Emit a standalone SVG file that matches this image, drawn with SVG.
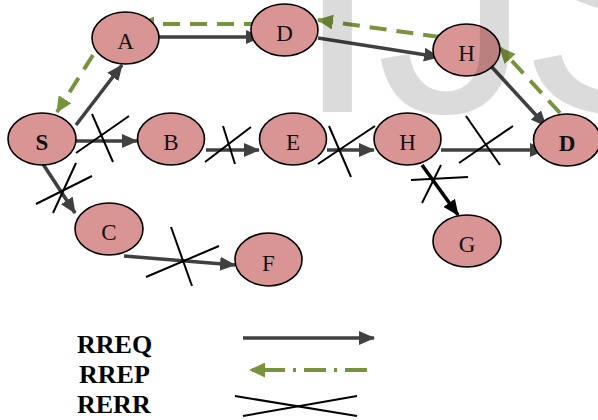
<svg xmlns="http://www.w3.org/2000/svg" width="598" height="420" viewBox="0 0 598 420">
  <style>
    .node ellipse { fill: #d99594; stroke: #000; stroke-width: 1.6; }
    .node text { font-family: "Liberation Serif", "Times New Roman", serif; font-size: 23px; fill: #111; text-anchor: middle; }
    .node text.b { font-weight: bold; }
    .req { fill: none; stroke: #404040; stroke-width: 3.6; marker-end: url(#ah); }
    .req.blk { stroke: #000; marker-end: url(#ahk); }
    .rep { fill: none; stroke: #77933c; stroke-width: 4; stroke-dasharray: 17 10; marker-end: url(#ag); }
    .err { fill: none; stroke: #000; stroke-width: 2; }
    .legend text { font-family: "Liberation Serif", "Times New Roman", serif; font-size: 26px; font-weight: bold; fill: #000; }
    .wm { font-family: "Liberation Sans", Arial, sans-serif; font-size: 312px; fill: #000; fill-opacity: 0.14; }
  </style>
  <defs>
    <marker id="ah" markerUnits="userSpaceOnUse" viewBox="0 0 16 14" markerWidth="16" markerHeight="14" refX="15" refY="7" orient="auto">
      <path d="M0,0 L16,7 L0,14 z" fill="#404040"/>
    </marker>
    <marker id="ahk" markerUnits="userSpaceOnUse" viewBox="0 0 16 14" markerWidth="16" markerHeight="14" refX="15" refY="7" orient="auto">
      <path d="M0,0 L16,7 L0,14 z" fill="#000"/>
    </marker>
    <marker id="ag" markerUnits="userSpaceOnUse" viewBox="0 0 16 15" markerWidth="16" markerHeight="15" refX="15" refY="7.5" orient="auto">
      <path d="M0,0 L16,7.5 L0,15 z" fill="#77933c"/>
    </marker>
  </defs>

  <!-- connectors -->
  <g id="connectors">
    <!-- RREQ -->
    <line class="req" x1="76" y1="125" x2="122" y2="65"/>
    <line class="req" x1="159" y1="37" x2="261" y2="37"/>
    <line class="req" x1="318" y1="38" x2="439" y2="57"/>
    <line class="req" x1="490" y1="65" x2="546" y2="126"/>
    <line class="req" x1="76" y1="141" x2="137" y2="141"/>
    <line class="req" x1="206" y1="150" x2="259" y2="150"/>
    <line class="req" x1="327" y1="150" x2="374" y2="150"/>
    <line class="req" x1="441" y1="150" x2="545" y2="150"/>
    <line class="req" x1="43" y1="164" x2="75" y2="213"/>
    <line class="req" x1="124" y1="256" x2="235" y2="265"/>
    <line class="req blk" x1="422" y1="165" x2="458" y2="215"/>
    <!-- RREP -->
    <line class="rep" x1="261" y1="24" x2="139" y2="24"/>
    <line class="rep" x1="93" y1="55" x2="57" y2="112"/>
    <line class="rep" x1="440" y1="37" x2="318" y2="20"/>
    <line class="rep" x1="560" y1="113" x2="500" y2="48"/>
    <!-- RERR -->
    <line class="err" x1="92" y1="114" x2="113" y2="162"/>
    <line class="err" x1="76" y1="153" x2="129" y2="116"/>
    <line class="err" x1="223" y1="126" x2="235" y2="164"/>
    <line class="err" x1="205" y1="162" x2="251" y2="127"/>
    <line class="err" x1="329" y1="126" x2="351" y2="177"/>
    <line class="err" x1="318" y1="164" x2="375" y2="126"/>
    <line class="err" x1="466" y1="116" x2="500" y2="165"/>
    <line class="err" x1="459" y1="163" x2="513" y2="126"/>
    <line class="err" x1="411" y1="180" x2="468" y2="177"/>
    <line class="err" x1="422" y1="203" x2="441" y2="165"/>
    <line class="err" x1="53" y1="213" x2="76" y2="163"/>
    <line class="err" x1="36" y1="204" x2="92" y2="176"/>
    <line class="err" x1="171" y1="227" x2="192" y2="286"/>
    <line class="err" x1="146" y1="277" x2="219" y2="246"/>
  </g>

  <!-- nodes -->
  <g id="node-S" class="node"><ellipse cx="42" cy="139" rx="34" ry="26"/><text class="b" x="42" y="150">S</text></g>
  <g id="node-A" class="node"><ellipse cx="125.5" cy="38" rx="33.5" ry="26"/><text x="125.5" y="49">A</text></g>
  <g id="node-D1" class="node"><ellipse cx="284.5" cy="30" rx="33.5" ry="26"/><text x="284.5" y="41">D</text></g>
  <g id="node-H1" class="node"><ellipse cx="466.5" cy="50" rx="33.5" ry="26"/><text x="466.5" y="61">H</text></g>
  <g id="node-B" class="node"><ellipse cx="171" cy="139" rx="33.5" ry="26"/><text x="171" y="150">B</text></g>
  <g id="node-E" class="node"><ellipse cx="293" cy="139" rx="33.5" ry="26"/><text x="293" y="150">E</text></g>
  <g id="node-H2" class="node"><ellipse cx="407.5" cy="139" rx="33.5" ry="26"/><text x="407.5" y="150">H</text></g>
  <g id="node-D2" class="node"><ellipse cx="567" cy="140" rx="33.5" ry="26"/><text class="b" x="567" y="151">D</text></g>
  <g id="node-C" class="node"><ellipse cx="109" cy="229" rx="34" ry="26"/><text x="109" y="240">C</text></g>
  <g id="node-F" class="node"><ellipse cx="268.5" cy="259.5" rx="33.5" ry="26.5"/><text x="268.5" y="271">F</text></g>
  <g id="node-G" class="node"><ellipse cx="467" cy="241" rx="34" ry="26"/><text x="467" y="252">G</text></g>

  <!-- legend -->
  <g id="legend" class="legend">
    <text x="77" y="353">RREQ</text>
    <text x="79" y="383">RREP</text>
    <text x="77" y="413">RERR</text>
    <line class="req" x1="243" y1="338" x2="374" y2="338"/>
    <line x1="367" y1="370" x2="250" y2="370" stroke="#77933c" stroke-width="4" stroke-dasharray="22 8 3 8" marker-end="url(#ag)"/>
    <line class="err" x1="235" y1="396" x2="357" y2="416"/>
    <line class="err" x1="243" y1="416" x2="357" y2="396"/>
  </g>

  <!-- watermark lettering over the drawing -->
  <text class="wm" x="294 376 519" y="112">IJS</text>
</svg>
